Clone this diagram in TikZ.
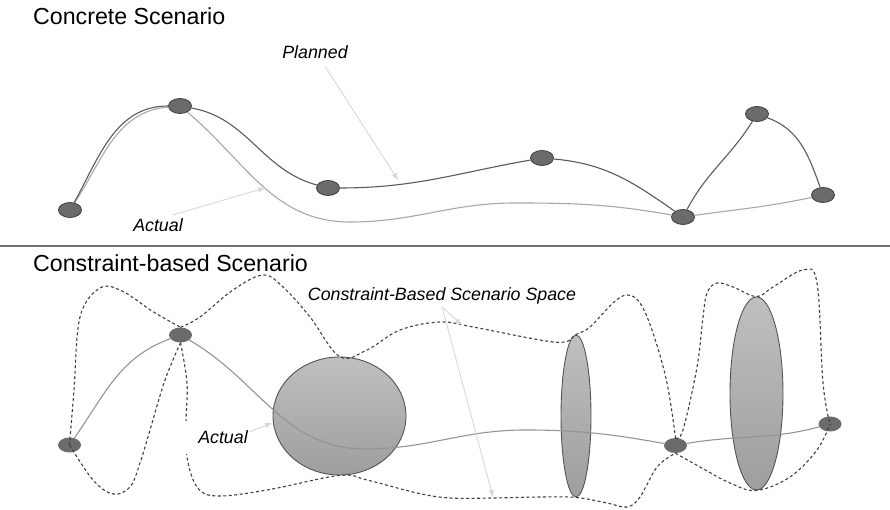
\documentclass[tikz,border=0pt]{standalone}
\usepackage{fontspec}
\setmainfont{Liberation Sans}
\usetikzlibrary{shapes.geometric,arrows.meta}

\definecolor{dotfill}{HTML}{6B6B6B}
\definecolor{dotline}{HTML}{3F3F3F}
\definecolor{plannedline}{HTML}{5A5A5A}
\definecolor{actualline}{HTML}{A8A8A8}
\definecolor{pointerline}{HTML}{D8D8D8}
\definecolor{rimline}{HTML}{555555}

\tikzset{
  waypoint/.style={ellipse,fill=dotfill,draw=dotline,line width=0.8pt,minimum width=23pt,minimum height=15pt,inner sep=0pt},
  softpoint/.style={ellipse,fill=dotfill,minimum width=23pt,minimum height=15pt,inner sep=0pt},
  region/.style={ellipse,draw=rimline,line width=0.9pt,top color=black!25,bottom color=black!38,inner sep=0pt},
  planned/.style={plannedline,line width=1.1pt},
  actual/.style={actualline,line width=1.1pt},
  envelope/.style={black!75,line width=1.1pt,dash pattern=on 3pt off 2.5pt},
  pointer/.style={pointerline,line width=0.9pt,-{Triangle[length=7pt,width=5pt]}},
  heading/.style={font=\fontsize{23.2}{27}\selectfont,anchor=base west,inner sep=0pt},
  tag/.style={font=\fontsize{17.8}{21}\selectfont\itshape,anchor=base,inner sep=0pt},
}

\begin{document}
\begin{tikzpicture}[x=1pt,y=1pt]
\useasboundingbox (0,0) rectangle (890,510);

% concrete scenario
\node[heading] (concrete) at (33,485) {Concrete Scenario};
\node[waypoint] (n1) at (70,300) {};
\node[waypoint] (n2) at (180,404) {};
\node[waypoint] (n3) at (328,322) {};
\node[waypoint] (n4) at (542,352) {};
\node[waypoint] (n5) at (683,293) {};
\node[waypoint] (n6) at (757,396) {};
\node[waypoint] (n7) at (823,315) {};

\draw[actual] (n1) to[out=57,in=185] (n2) to[out=-40,in=180] (350,288)
  to[out=0,in=180] (515,307) to[out=0,in=170] (n5) to[out=8,in=192] (n7);
\draw[planned] (n1) to[out=61,in=180] (n2) to[out=-10,in=165] (n3)
  to[out=0,in=190] (n4) to[out=-5,in=145] (n5) to[out=62,in=238] (n6)
  to[out=-20,in=110] (n7);

\node[tag] (plannedtag) at (315,451) {Planned};
\coordinate (plannedtip) at (398,330);
\draw[pointer] ([xshift=10pt,yshift=-7pt]plannedtag.south) -- (plannedtip);
\node[tag] (actualtag) at (158,278) {Actual};
\coordinate (actualtip) at (265,322);
\draw[pointer] ([xshift=15pt,yshift=4pt]actualtag.north) -- (actualtip);

\draw[black!55,line width=1.5pt] (0,264) -- (890,264);

% constraint-based scenario
\node[heading] (constraint) at (33,238) {Constraint-based Scenario};
\node[region,minimum width=133pt,minimum height=118pt] (c1) at (339.5,94) {};
\node[region,minimum width=30pt,minimum height=162pt] (e1) at (576,94) {};
\node[region,minimum width=53pt,minimum height=193pt] (e2) at (756.5,116.5) {};
\node[softpoint] (b1) at (69.5,65) {};
\node[softpoint] (b2) at (180.5,175) {};
\node[softpoint] (b3) at (675.5,64.5) {};
\node[softpoint] (b4) at (830,86) {};

\draw[actual,black!42] (b1) to[out=55,in=200] (b2) to[out=-30,in=180] (365,61)
  to[out=0,in=180] (525,80) to[out=0,in=170] (b3) to[out=10,in=195] (b4);

\draw[envelope] plot[smooth,tension=0.6] coordinates {(b1.center) (74,120) (80,193)
  (100,222) (122,219) (152,199) (b2.north)};
\draw[envelope] plot[smooth,tension=0.6] coordinates {(b2.north) (200,193) (233,220)
  (263,235) (283,223) (310,193) (c1.north) (367,160) (400,180) (440,188) (473,183)
  (540,170) (565,168) (e1.north) (590,183) (613,207) (627,215) (640,207) (653,177)
  (667,127) (b3.north)};
\draw[envelope] plot[smooth,tension=0.6] coordinates {(b3.north) (683,80) (697,143)
  (703,193) (707,217) (717,227) (733,223) (e2.north) (773,223) (803,240) (817,227)
  (823,127) (b4.center)};
\draw[envelope] plot[smooth,tension=0.6] coordinates {(b1.center) (93,30) (113,16)
  (130,23) (140,47) (150,80) (165,130) (b2.south)};
\draw[envelope] plot[smooth,tension=0.6] coordinates {(b2.south) (187,127) (186,87)
  (187,53) (197,23) (217,14) (267,20) (c1.south) (367,30) (417,17) (450,12) (493,12)
  (540,13) (e1.south) (607,7) (627,3) (640,13) (657,43) (b3.south)};
\draw[envelope] plot[smooth,tension=0.6] coordinates {(b3.south) (700,43) (730,27)
  (e2.south) (790,33) (817,60) (b4.center)};

\node[tag,fill=white,inner xsep=14pt,inner ysep=10pt] (actualbox) at (223,66) {Actual};
\coordinate (actualtip2) at (272,87);
\draw[pointer] ([xshift=-13pt,yshift=12pt]actualbox.base east) -- (actualtip2);
\node[tag] (spacetag) at (442,209) {Constraint-Based Scenario Space};
\coordinate (spacetip1) at (462,185);
\coordinate (spacetip2) at (493,13);
\draw[pointer] ([yshift=-2pt]spacetag.south) -- (spacetip1);
\draw[pointer] ([yshift=-2pt]spacetag.south) -- (spacetip2);
\end{tikzpicture}
\end{document}
